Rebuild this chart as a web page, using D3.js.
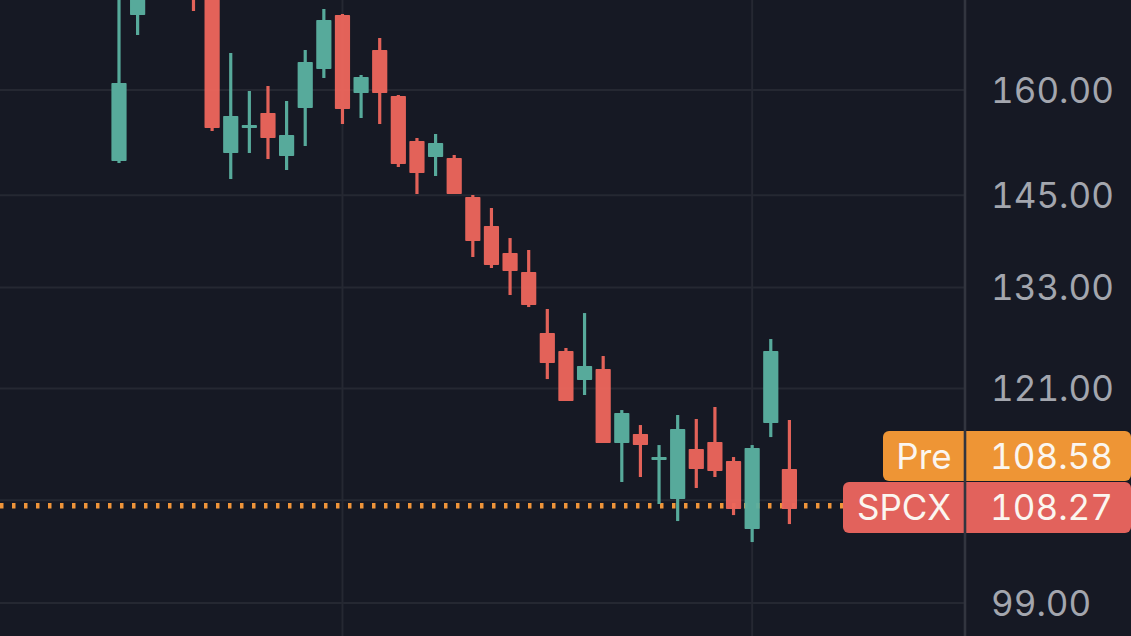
<!DOCTYPE html>
<html><head><meta charset="utf-8">
<script src="https://cdnjs.cloudflare.com/ajax/libs/d3/7.8.5/d3.min.js"></script>
<style>
html,body{margin:0;padding:0;background:#161924;overflow:hidden}
svg{display:block}
text{font-family:Inter,"Noto Sans",sans-serif;font-variant-numeric:tabular-nums;font-feature-settings:"tnum"}
</style></head><body>
<svg id="c" width="1131" height="636"></svg>
<script>
// Session index of each candle; null = outside the visible window
const sessions = d3.range(37);
const opens  = [149.71,171.63,null,null,176.50,176.00,150.84,154.41,156.59,150.42,157.33,163.18,171.63,159.55,166.10,159.10,152.54,150.28,150.13,144.75,140.88,137.36,134.94,127.45,125.32,121.97,123.23,114.99,115.96,113.17,109.12,114.34,115.09,113.07,106.09,117.16,112.22];
const closes = [161.05,176.00,null,null,174.80,154.41,156.15,154.84,152.97,153.40,164.25,170.83,157.18,161.96,159.55,149.29,148.04,152.26,145.16,138.91,135.83,135.07,130.84,123.92,119.60,123.58,114.99,118.26,114.77,113.49,116.50,112.22,112.01,108.10,114.45,125.32,108.10];
const highs  = [175.00,178.00,null,null,178.00,177.00,165.64,159.85,160.60,158.36,166.10,172.60,171.79,162.26,167.98,159.25,152.97,153.55,150.56,145.03,143.27,139.30,137.75,130.35,125.68,129.86,124.74,118.59,116.94,114.77,118.04,117.60,118.93,113.49,114.77,126.74,117.49];
const lows   = [149.43,168.45,null,null,172.28,153.98,147.21,150.84,149.99,148.46,151.83,161.81,154.99,155.86,154.99,148.88,145.16,147.63,145.16,136.85,135.45,132.07,130.59,122.08,119.60,120.27,114.99,110.87,111.39,108.61,106.89,110.25,111.39,107.49,104.81,115.63,106.59];
const gridPrices = [160,145,133,121,109,99];
const tickLabels = ["160.00","145.00","133.00","121.00","99.00"];
const tickPrices = [160,145,133,121,99];
const tags = [
  {name:"Pre", price:"108.58", color:"#ee9535"},
  {name:"SPCX", price:"108.27", color:"#e2625c"}
];
const dottedLevel = 108.42;
const verticalSessions = [12,34];

const UP="#5ab0a0", DOWN="#ec665c", BG="#161924", GRID="#252832", AXIS="#32353f", LABEL="#a3a6ae";
const W=1131,H=636,axisX=965;
const y=d3.scaleLog().domain([99,160]).range([603,90]);
const x=d3.scaleLinear().domain([0,36]).range([119,789.4]);
const svg=d3.select("#c");

svg.append("g").selectAll("line").data(gridPrices).join("line")
  .attr("x1",0).attr("x2",axisX).attr("y1",d=>y(d)).attr("y2",d=>y(d))
  .attr("stroke",GRID).attr("stroke-width",2);
svg.append("g").selectAll("line").data(verticalSessions).join("line")
  .attr("x1",d=>x(d)).attr("x2",d=>x(d)).attr("y1",0).attr("y2",H)
  .attr("stroke",GRID).attr("stroke-width",2);

svg.append("line").attr("x1",0).attr("x2",843).attr("y1",y(dottedLevel)).attr("y2",y(dottedLevel))
  .attr("stroke","#f0953a").attr("stroke-width",5.5).attr("stroke-dasharray","3.5 8.5");

const rows=sessions.map(i=>({i,o:opens[i],c:closes[i],h:highs[i],l:lows[i]})).filter(d=>d.o!==null);
const g=svg.append("g").attr("opacity",0.96);
g.selectAll("line").data(rows).join("line")
  .attr("x1",d=>x(d.i)).attr("x2",d=>x(d.i)).attr("y1",d=>y(d.h)).attr("y2",d=>y(d.l))
  .attr("stroke",d=>d.c>=d.o?UP:DOWN).attr("stroke-width",3.2);
g.selectAll("rect").data(rows).join("rect")
  .attr("x",d=>x(d.i)-7.6).attr("width",15.2)
  .attr("y",d=>y(Math.max(d.o,d.c))).attr("height",d=>Math.abs(y(d.o)-y(d.c)))
  .attr("rx",0.8)
  .attr("fill",d=>d.c>=d.o?UP:DOWN);

svg.append("g").selectAll("text").data(tickPrices).join("text")
  .attr("x",991).attr("y",d=>y(d)).attr("dy","0.36em").attr("text-anchor","start")
  .attr("font-size",35).attr("fill",LABEL).text((d,i)=>tickLabels[i]);

const tagBox=[{x:883,y:431,h:50},{x:843,y:482,h:51}];
tags.forEach((t,i)=>{
  const b=tagBox[i];
  svg.append("rect").attr("x",b.x).attr("y",b.y).attr("width",W-b.x).attr("height",b.h).attr("rx",6).attr("fill",t.color);
  svg.append("text").attr("x",(b.x+axisX)/2).attr("y",b.y+b.h/2).attr("dy","0.36em").attr("text-anchor","middle")
    .attr("font-size",35).attr("fill","#fbf6f0").text(t.name);
  svg.append("text").attr("x",1113).attr("y",b.y+b.h/2).attr("dy","0.36em").attr("text-anchor","end")
    .attr("font-size",35).attr("fill","#fbf6f0").text(t.price);
});
svg.append("line").attr("x1",axisX).attr("x2",axisX).attr("y1",0).attr("y2",H)
  .attr("stroke",AXIS).attr("stroke-width",2.6);
</script>
</body></html>
